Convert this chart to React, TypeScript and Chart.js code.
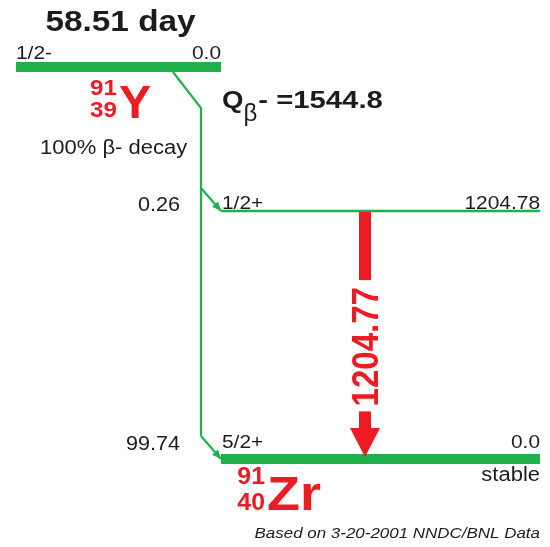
import React, { useEffect, useRef } from "react";
import { Chart, registerables } from "chart.js";
Chart.register(...registerables);

// ---------------- data ----------------
const parentSymbol = "Y";
const parentMass = "91";
const parentCharge = "39";
const parentHalfLife = "58.51 day";
const parentSpin = "1/2-";
const parentEnergy = 0.0;
const qValue = 1544.8;
const decayMode = "100% β- decay";

const levelEnergies = [1204.78, 0.0];
const levelSpins = ["1/2+", "5/2+"];
const betaIntensities = [0.26, 99.74];

const gammaEnergies = [1204.77];
const gammaFrom = [1204.78];
const gammaTo = [0.0];

const daughterSymbol = "Zr";
const daughterMass = "91";
const daughterCharge = "40";
const daughterNote = "stable";
const footnote = "Based on 3-20-2001 NNDC/BNL Data";

// ---------------- layout / style ----------------
const W = 550;
const H = 547;
const Y_MIN = -427.5; // energy axis (keV) mapped to canvas height
const Y_MAX = 2229.8;
const KEV_PX = (Y_MAX - Y_MIN) / H;
const PARENT_PLOT_E = 1904.3; // schematic (not to scale) placement of the parent level
const PARENT_X = [16, 221];
const LEVEL_X = [221, 540];
const BETA_X = 201;
const BETA_START_X = 173;
const GAMMA_X = 365;
const GREEN = "#1fb04b";
const RED = "#ed1c24";
const INK = "#1e1b1c";
const FF = '"Liberation Sans", Arial, Helvetica, sans-serif';

function fmt(v: number, d: number) {
  return v.toFixed(d);
}

function txt(
  ctx: CanvasRenderingContext2D,
  s: string,
  x: number,
  y: number,
  font: string,
  color: string,
  align: "left" | "right" | "center",
  sx = 1.1
) {
  ctx.save();
  ctx.font = font;
  ctx.fillStyle = color;
  ctx.textBaseline = "alphabetic";
  ctx.textAlign = "left";
  const w = ctx.measureText(s).width * sx;
  const left = align === "left" ? x : align === "right" ? x - w : x - w / 2;
  ctx.translate(left, y);
  ctx.scale(sx, 1);
  ctx.fillText(s, 0, 0);
  ctx.restore();
  return w;
}

export default function App() {
  const ref = useRef<HTMLCanvasElement | null>(null);

  useEffect(() => {
    const canvas = ref.current;
    if (!canvas) return;

    const datasets: any[] = [];
    // parent level
    datasets.push({
      data: [
        { x: PARENT_X[0], y: PARENT_PLOT_E },
        { x: PARENT_X[1], y: PARENT_PLOT_E },
      ],
      borderColor: GREEN,
      borderWidth: 10,
      borderCapStyle: "butt",
    });
    const parentIdx = 0;
    // daughter levels
    const levelIdx: number[] = [];
    levelEnergies.forEach((e) => {
      levelIdx.push(datasets.length);
      datasets.push({
        data: [
          { x: LEVEL_X[0], y: e },
          { x: LEVEL_X[1], y: e },
        ],
        borderColor: GREEN,
        borderWidth: e === 0 ? 10 : 2.5,
        borderCapStyle: "butt",
      });
    });
    // beta trunk
    const lowest = Math.min(...levelEnergies);
    datasets.push({
      data: [
        { x: BETA_START_X, y: PARENT_PLOT_E - 5 * KEV_PX },
        { x: BETA_X, y: PARENT_PLOT_E - 41 * KEV_PX },
        { x: BETA_X, y: lowest + 23 * KEV_PX },
      ],
      borderColor: GREEN,
      borderWidth: 2.2,
    });
    // beta branches
    const betaIdx: number[] = [];
    levelEnergies.forEach((e) => {
      betaIdx.push(datasets.length);
      datasets.push({
        data: [
          { x: BETA_X, y: e + 23 * KEV_PX },
          { x: LEVEL_X[0], y: e },
        ],
        borderColor: GREEN,
        borderWidth: 2.2,
      });
    });
    // gamma (drawn as arrow by plugin)
    const gammaIdx: number[] = [];
    gammaEnergies.forEach((g, i) => {
      gammaIdx.push(datasets.length);
      datasets.push({
        data: [
          { x: GAMMA_X, y: gammaFrom[i] },
          { x: GAMMA_X, y: gammaTo[i] },
        ],
        borderColor: "rgba(0,0,0,0)",
        borderWidth: 0,
      });
    });

    const scheme = {
      id: "scheme",
      afterDatasetsDraw(chart: any) {
        const ctx: CanvasRenderingContext2D = chart.ctx;
        // beta arrowheads
        betaIdx.forEach((di) => {
          const pts = chart.getDatasetMeta(di).data;
          const a = pts[pts.length - 2];
          const b = pts[pts.length - 1];
          const ang = Math.atan2(b.y - a.y, b.x - a.x);
          const L = 9;
          const hw = 4;
          ctx.save();
          ctx.fillStyle = GREEN;
          ctx.beginPath();
          ctx.moveTo(b.x, b.y);
          ctx.lineTo(
            b.x - L * Math.cos(ang) + hw * Math.sin(ang),
            b.y - L * Math.sin(ang) - hw * Math.cos(ang)
          );
          ctx.lineTo(
            b.x - L * Math.cos(ang) - hw * Math.sin(ang),
            b.y - L * Math.sin(ang) + hw * Math.cos(ang)
          );
          ctx.closePath();
          ctx.fill();
          ctx.restore();
        });
        // gamma arrows
        gammaIdx.forEach((di, i) => {
          const pts = chart.getDatasetMeta(di).data;
          const x = pts[0].x;
          const top = pts[0].y + 1;
          const tip = pts[1].y - 2;
          const headLen = 29;
          const headHalf = 15;
          const shaft = 12;
          const fs = 33;
          const label = fmt(gammaEnergies[i], 2);
          ctx.save();
          ctx.font = `bold ${fs}px ${FF}`;
          const len = ctx.measureText(label).width;
          const c = top + 0.55 * (tip - top);
          ctx.fillStyle = RED;
          ctx.fillRect(x - shaft / 2, top, shaft, c - len / 2 - 7 - top);
          const s2 = c + len / 2 + 5;
          ctx.fillRect(x - shaft / 2, s2, shaft, tip - headLen - s2 + 0.5);
          ctx.beginPath();
          ctx.moveTo(x - headHalf, tip - headLen);
          ctx.lineTo(x + headHalf, tip - headLen);
          ctx.lineTo(x, tip);
          ctx.closePath();
          ctx.fill();
          ctx.translate(x, c);
          ctx.scale(1.12, 1);
          ctx.rotate(-Math.PI / 2);
          ctx.textAlign = "left";
          ctx.textBaseline = "alphabetic";
          ctx.fillText(label, -len / 2, 0.358 * fs);
          ctx.restore();
        });

        // parent texts
        const pm = chart.getDatasetMeta(parentIdx).data;
        const px0 = pm[0].x;
        const px1 = pm[1].x;
        const py = pm[0].y;
        txt(ctx, parentHalfLife, (px0 + px1) / 2 + 2, py - 36, `bold 29px ${FF}`, INK, "center", 1.15);
        txt(ctx, parentSpin, px0, py - 8, `19px ${FF}`, INK, "left");
        txt(ctx, fmt(parentEnergy, 1), px1, py - 8, `19px ${FF}`, INK, "right");
        txt(ctx, parentMass, px0 + 101, py + 28, `bold 22px ${FF}`, RED, "right", 1.1);
        txt(ctx, parentCharge, px0 + 101, py + 50, `bold 22px ${FF}`, RED, "right", 1.1);
        txt(ctx, parentSymbol, px0 + 103, py + 51, `bold 46px ${FF}`, RED, "left", 1.05);
        // Q value
        let qx = px1 + 1;
        qx += txt(ctx, "Q", qx, py + 41, `bold 24px ${FF}`, INK, "left", 1.15);
        qx += txt(ctx, "β", qx, py + 54, `24px ${FF}`, INK, "left", 1.0);
        txt(ctx, "- =" + fmt(qValue, 1), qx + 1, py + 41, `bold 24px ${FF}`, INK, "left", 1.22);
        txt(ctx, decayMode, px0 + 24, py + 87, `20px ${FF}`, INK, "left", 1.1);

        // level texts
        levelEnergies.forEach((e, i) => {
          const m = chart.getDatasetMeta(levelIdx[i]).data;
          const lx0 = m[0].x;
          const lx1 = m[1].x;
          const ly = m[0].y;
          const thick = e === 0;
          const base = thick ? ly - 11 : ly - 2;
          txt(ctx, levelSpins[i], lx0 + 1, base, `19px ${FF}`, INK, "left");
          txt(ctx, fmt(e, e === 0 ? 1 : 2), lx1, base, `19px ${FF}`, INK, "right");
          txt(ctx, fmt(betaIntensities[i], 2), BETA_X - 21, base + 2, `20px ${FF}`, INK, "right", 1.08);
          if (thick) {
            txt(ctx, daughterNote, lx1, ly + 22, `20px ${FF}`, INK, "right", 1.1);
            txt(ctx, daughterMass, lx0 + 44, ly + 25, `bold 23px ${FF}`, RED, "right", 1.08);
            txt(ctx, daughterCharge, lx0 + 44, ly + 51, `bold 23px ${FF}`, RED, "right", 1.08);
            txt(ctx, daughterSymbol, lx0 + 46, ly + 51, `bold 49px ${FF}`, RED, "left", 1.1);
            txt(ctx, footnote, lx1, ly + 79, `italic 15px ${FF}`, INK, "right", 1.13);
          }
        });
      },
    };

    const chart = new Chart(canvas, {
      type: "scatter",
      data: {
        datasets: datasets.map((d) => ({
          ...d,
          showLine: true,
          pointRadius: 0,
          pointHoverRadius: 0,
          tension: 0,
          clip: false,
          fill: false,
        })),
      },
      options: {
        responsive: false,
        animation: false,
        devicePixelRatio: 1,
        events: [],
        layout: { padding: 0 },
        plugins: {
          legend: { display: false },
          tooltip: { enabled: false },
          title: { display: false },
        },
        scales: {
          x: { type: "linear", min: 0, max: W, display: false },
          y: { type: "linear", min: Y_MIN, max: Y_MAX, display: false },
        },
      },
      plugins: [scheme],
    } as any);

    return () => chart.destroy();
  }, []);

  return (
    <div
      style={{
        position: "fixed",
        left: 0,
        top: 0,
        width: W,
        height: H,
        background: "#ffffff",
      }}
    >
      <canvas ref={ref} width={W} height={H} style={{ width: W, height: H, display: "block" }} />
    </div>
  );
}
